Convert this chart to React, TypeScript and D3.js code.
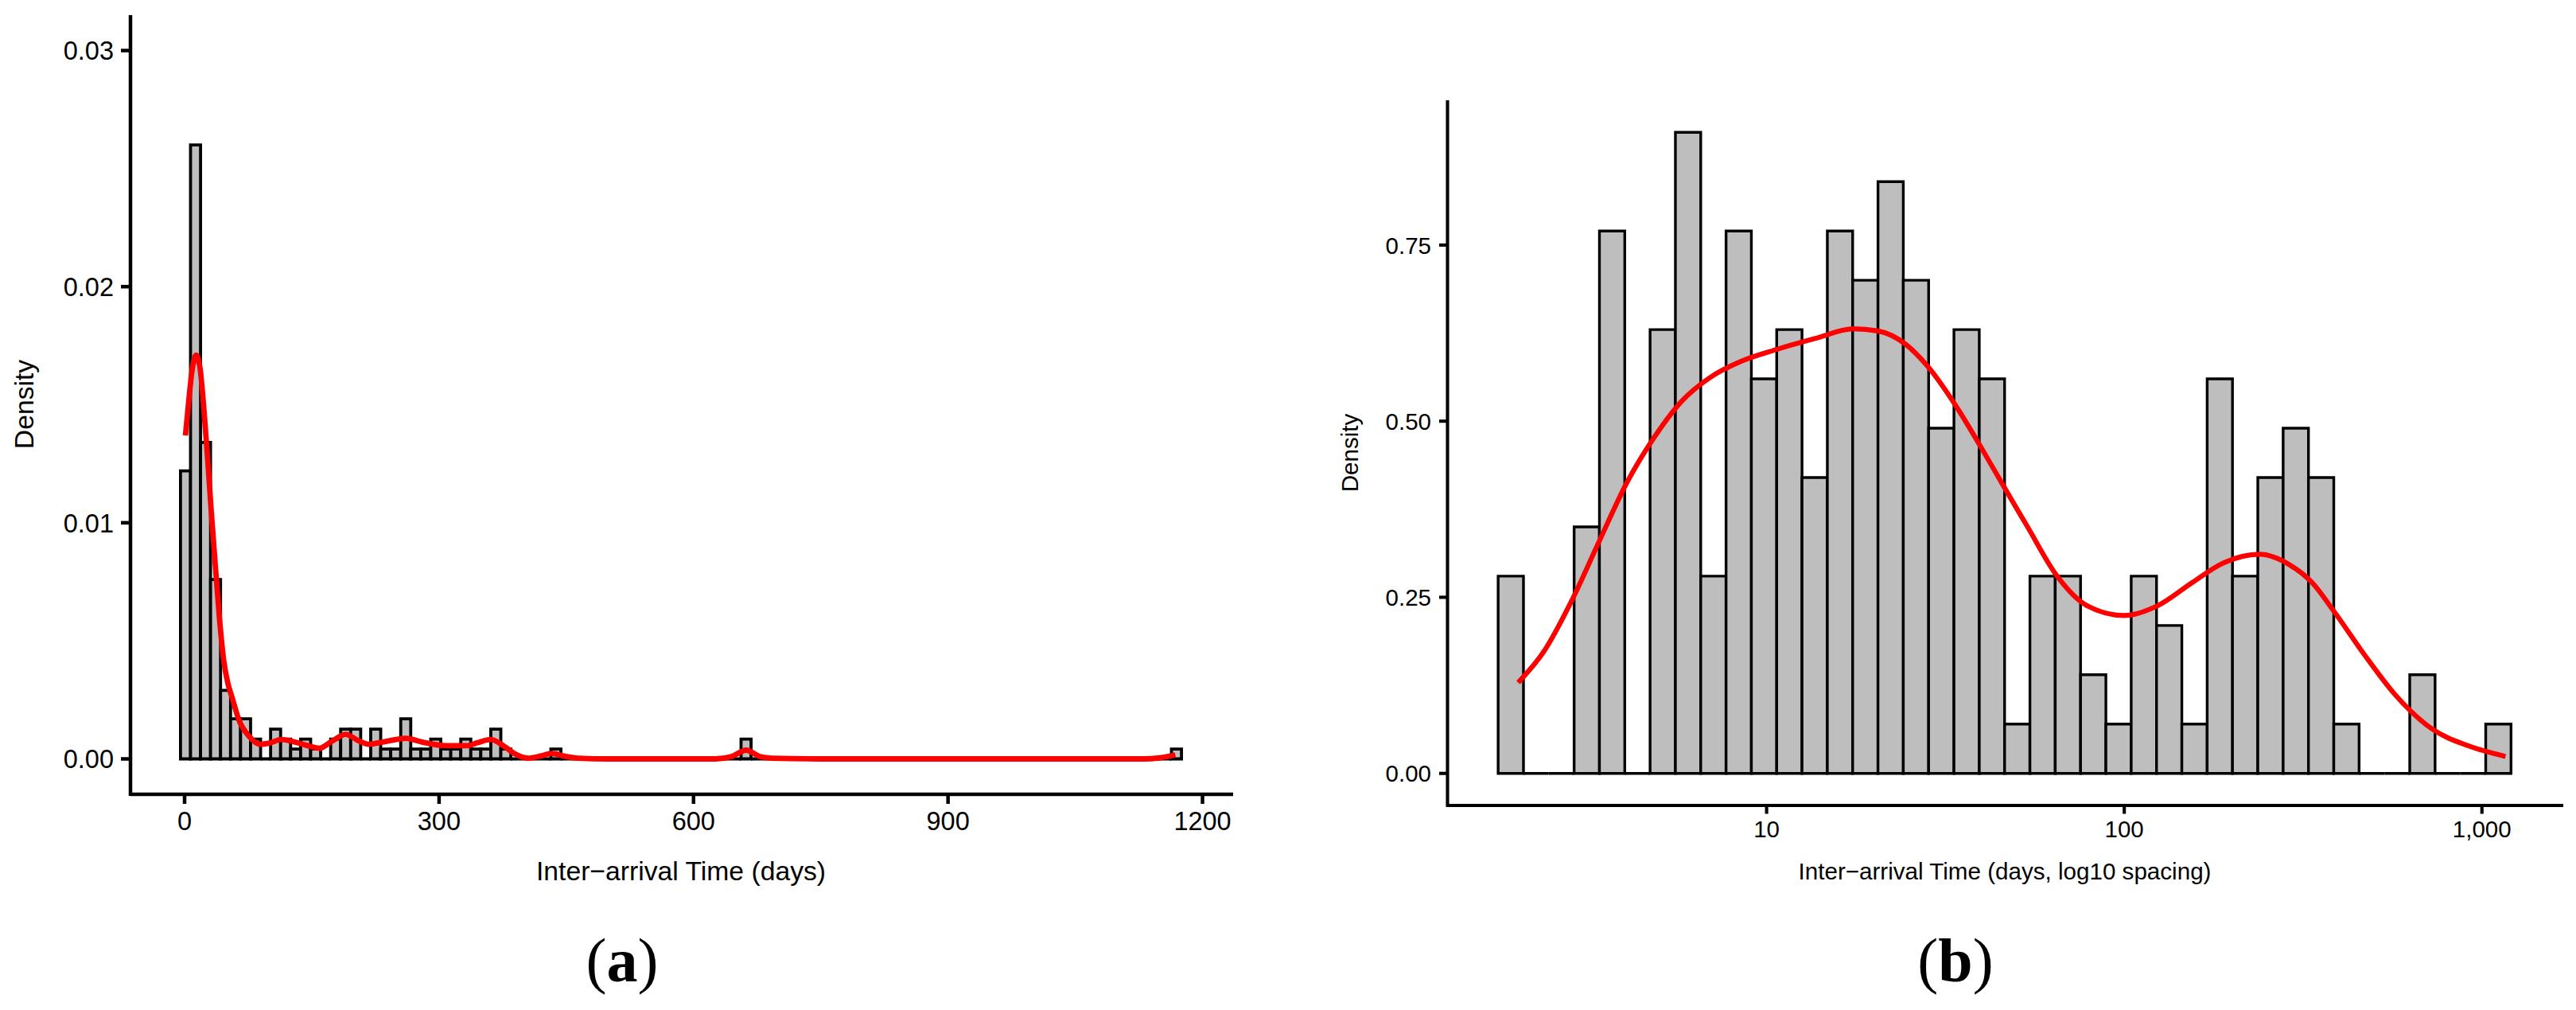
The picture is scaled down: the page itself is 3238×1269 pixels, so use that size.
import * as d3 from 'd3'

// (a) linear histogram: 100 bins of 11.8 days from -4.8
const LIN_BIN_START = -4.8
const LIN_BIN_WIDTH = 11.8
const LIN_DENSITY = [
  0.0122, 0.026, 0.0134, 0.0076, 0.0029, 0.0017, 0.0017, 0.00084, 0, 0.00126,
  0.00084, 0.00042, 0.00084, 0.00042, 0, 0.00084, 0.00126, 0.00126, 0, 0.00126,
  0.00042, 0.00042, 0.0017, 0.00042, 0.00042, 0.00084, 0.00042, 0.00042, 0.00084, 0.00042,
  0.00042, 0.00126, 0.00042, 0, 0, 0, 0, 0.00042, 0, 0,
  0, 0, 0, 0, 0, 0, 0, 0, 0, 0,
  0, 0, 0, 0, 0, 0, 0.00084, 0, 0, 0,
  0, 0, 0, 0, 0, 0, 0, 0, 0, 0,
  0, 0, 0, 0, 0, 0, 0, 0, 0, 0,
  0, 0, 0, 0, 0, 0, 0, 0, 0, 0,
  0, 0, 0, 0, 0, 0, 0, 0, 0, 0.00042,
]
const LIN_CURVE_DAYS = [1, 5, 9, 13.5, 18, 23, 27, 31, 36, 41, 46, 51, 56, 64, 76, 89, 101, 114, 126, 145, 159, 173, 190, 204, 217, 236, 261, 280, 308, 333, 345, 361, 377, 390, 405, 420, 433, 447, 464, 500, 560, 626, 645, 662, 678, 692, 750, 900, 1050, 1130, 1150, 1168]
const LIN_CURVE_DENS = [0.0137, 0.0152, 0.0165, 0.0171, 0.0166, 0.0147, 0.0128, 0.0107, 0.0083, 0.006, 0.0042, 0.0032, 0.0026, 0.00165, 0.00096, 0.00062, 0.00068, 0.00082, 0.00075, 0.00056, 0.00045, 0.00073, 0.00104, 0.00079, 0.00062, 0.00073, 0.00087, 0.00071, 0.00056, 0.00056, 0.00068, 0.00082, 0.00053, 0.0002, 0.00003, 0.00012, 0.00023, 0.00012, 0.00003, 0, 0, 0, 0.0001, 0.00037, 0.0001, 0.00003, 0, 0, 0, 0, 0.00005, 0.00017]
const LIN_X_TICKS = [0, 300, 600, 900, 1200]
const LIN_Y_TICKS = [0, 0.01, 0.02, 0.03]

// (b) log10 histogram: 40 bins
const LOG_BIN_START = 0.2494
const LOG_BIN_WIDTH = 0.0708
const LOG_DENSITY = [0.28, 0, 0, 0.35, 0.77, 0, 0.63, 0.91, 0.28, 0.77, 0.56, 0.63, 0.42, 0.77, 0.7, 0.84, 0.7, 0.49, 0.63, 0.56, 0.07, 0.28, 0.28, 0.14, 0.07, 0.28, 0.21, 0.07, 0.56, 0.28, 0.42, 0.49, 0.42, 0.07, 0, 0, 0.14, 0, 0, 0.07]
const LOG_CURVE_DAYS = [2.02, 2.39, 2.85, 3.4, 4.06, 4.85, 5.78, 6.9, 8.49, 10.7, 13.6, 17.5, 20.5, 24.5, 28.3, 33.8, 40.4, 46.2, 53.5, 64.9, 78.7, 100, 124, 155, 188, 239, 290, 335, 387, 470, 569, 721, 918, 1164]
const LOG_CURVE_DENS = [0.129, 0.174, 0.245, 0.329, 0.412, 0.477, 0.528, 0.561, 0.585, 0.602, 0.617, 0.631, 0.628, 0.609, 0.577, 0.522, 0.457, 0.406, 0.351, 0.28, 0.238, 0.224, 0.238, 0.271, 0.298, 0.311, 0.296, 0.271, 0.229, 0.168, 0.113, 0.064, 0.039, 0.024]
const LOG_X_TICKS = [10, 100, 1000]
const LOG_Y_TICKS = [0, 0.25, 0.5, 0.75]

const SANS = '"Liberation Sans", Arial, Helvetica, sans-serif'
const BAR_FILL = '#bebebe'
const RED = '#ff0000'

function barPath(x0: number, x1: number, y0: number, y1: number) {
  return `M${x0},${y0}V${y1}H${x1}V${y0}Z`
}

function LinearPanel() {
  const n = LIN_DENSITY.length
  const lo = LIN_BIN_START, hi = LIN_BIN_START + n * LIN_BIN_WIDTH
  const pad = (hi - lo) * 0.05
  const x = d3.scaleLinear().domain([lo - pad, hi + pad]).range([164, 1548])
  const y = d3.scaleLinear().domain([-0.0015, 0.0315]).range([998, 19])
  const line = d3.line<number>()
    .x((_, i) => x(LIN_CURVE_DAYS[i]))
    .y(d => y(d))
    .curve(d3.curveMonotoneX)
  const fs = 32.5
  return (
    <g>
      {LIN_DENSITY.map((d, i) => (
        <path key={i}
          d={barPath(x(lo + i * LIN_BIN_WIDTH), x(lo + (i + 1) * LIN_BIN_WIDTH), y(0), y(d))}
          fill={BAR_FILL} stroke="#000" strokeWidth={3.8} strokeLinejoin="miter" />
      ))}
      <path d={line(LIN_CURVE_DENS) || ''} fill="none" stroke={RED} strokeWidth={6.8} strokeLinejoin="round" />
      {/* axes */}
      <line x1={164} x2={1550} y1={998} y2={998} stroke="#000" strokeWidth={4.5} />
      <line x1={164} x2={164} y1={19} y2={1000} stroke="#000" strokeWidth={4.5} />
      {LIN_Y_TICKS.map(t => (
        <g key={t}>
          <line x1={152} x2={164} y1={y(t)} y2={y(t)} stroke="#000" strokeWidth={4.5} />
          <text x={143} y={y(t)} dy="0.36em" textAnchor="end" fontFamily={SANS} fontSize={fs}>{d3.format('.2f')(t)}</text>
        </g>
      ))}
      {LIN_X_TICKS.map(t => (
        <g key={t}>
          <line x1={x(t)} x2={x(t)} y1={998} y2={1010} stroke="#000" strokeWidth={4.5} />
          <text x={x(t)} y={1043} textAnchor="middle" fontFamily={SANS} fontSize={fs}>{t}</text>
        </g>
      ))}
      <text x={856} y={1106} textAnchor="middle" fontFamily={SANS} fontSize={33.7}>Inter−arrival Time (days)</text>
      <text transform="translate(41.7,508) rotate(-90)" textAnchor="middle" fontFamily={SANS} fontSize={33.7}>Density</text>
    </g>
  )
}

function LogPanel() {
  const n = LOG_DENSITY.length
  const lo = LOG_BIN_START, hi = LOG_BIN_START + n * LOG_BIN_WIDTH
  const pad = (hi - lo) * 0.05
  const x = d3.scaleLog().domain([Math.pow(10, lo - pad), Math.pow(10, hi + pad)]).range([1819.5, 3220])
  const ymax = d3.max(LOG_DENSITY) as number
  const y = d3.scaleLinear().domain([-ymax * 0.05, ymax * 1.05]).range([1012, 126])
  const edge = (i: number) => x(Math.pow(10, lo + i * LOG_BIN_WIDTH))
  const line = d3.line<number>()
    .x((_, i) => x(LOG_CURVE_DAYS[i]))
    .y(d => y(d))
    .curve(d3.curveMonotoneX)
  const fs = 29.5
  return (
    <g>
      {LOG_DENSITY.map((d, i) => (
        <path key={i} d={barPath(edge(i), edge(i + 1), y(0), y(d))}
          fill={BAR_FILL} stroke="#000" strokeWidth={3.4} />
      ))}
      <path d={line(LOG_CURVE_DENS) || ''} fill="none" stroke={RED} strokeWidth={6.2} strokeLinejoin="round" />
      <line x1={1819.5} x2={3222} y1={1012} y2={1012} stroke="#000" strokeWidth={4.1} />
      <line x1={1819.5} x2={1819.5} y1={126} y2={1014} stroke="#000" strokeWidth={4.1} />
      {LOG_Y_TICKS.map(t => (
        <g key={t}>
          <line x1={1809} x2={1819.5} y1={y(t)} y2={y(t)} stroke="#000" strokeWidth={4.1} />
          <text x={1799} y={y(t)} dy="0.36em" textAnchor="end" fontFamily={SANS} fontSize={fs}>{d3.format('.2f')(t)}</text>
        </g>
      ))}
      {LOG_X_TICKS.map(t => (
        <g key={t}>
          <line x1={x(t)} x2={x(t)} y1={1012} y2={1022.5} stroke="#000" strokeWidth={4.1} />
          <text x={x(t)} y={1051.7} textAnchor="middle" fontFamily={SANS} fontSize={fs}>{d3.format(',')(t)}</text>
        </g>
      ))}
      <text x={2520} y={1105} textAnchor="middle" fontFamily={SANS} fontSize={29.6}>Inter−arrival Time (days, log10 spacing)</text>
      <text transform="translate(1707,569) rotate(-90)" textAnchor="middle" fontFamily={SANS} fontSize={29.6}>Density</text>
    </g>
  )
}

export default function App() {
  const W = 3238, H = 1269
  const serif = '"Liberation Serif", "Times New Roman", serif'
  return (
    <svg width={W} height={H} style={{ position: 'absolute', left: 0, top: 0, display: 'block' }}>
      <rect width={W} height={H} fill="#fff" />
      <LinearPanel />
      <LogPanel />
      <text x={782} y={1233} textAnchor="middle" fontFamily={serif} fontSize={78}>
        (<tspan fontWeight="bold">a</tspan>)
      </text>
      <text x={2458} y={1233} textAnchor="middle" fontFamily={serif} fontSize={78}>
        (<tspan fontWeight="bold">b</tspan>)
      </text>
    </svg>
  )
}
